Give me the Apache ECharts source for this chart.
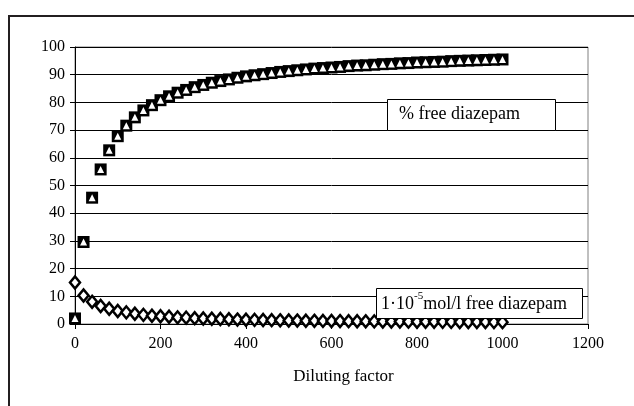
<!DOCTYPE html>
<html>
<head>
<meta charset="utf-8">
<script src="https://cdn.jsdelivr.net/npm/echarts@6/dist/echarts.min.js"></script>
<style>
  html, body { margin: 0; padding: 0; background: #fff; }
  #chart { width: 634px; height: 406px; }
</style>
</head>
<body>
<div id="chart"></div>
<script>
// diluting factor, step 20
const dilution = [0, 20, 40, 60, 80, 100, 120, 140, 160, 180, 200, 220, 240, 260, 280, 300,
  320, 340, 360, 380, 400, 420, 440, 460, 480, 500, 520, 540, 560, 580, 600, 620, 640, 660,
  680, 700, 720, 740, 760, 780, 800, 820, 840, 860, 880, 900, 920, 940, 960, 980, 1000];

// % free diazepam (squares + triangles)
const freePercent = [2, 29.6, 45.6, 55.8, 62.7, 67.8, 71.6, 74.6, 77.1, 79.0, 80.8, 82.2, 83.5,
  84.5, 85.5, 86.3, 87.1, 87.7, 88.3, 88.9, 89.4, 89.8, 90.2, 90.6, 91.0, 91.3, 91.6, 91.9,
  92.2, 92.4, 92.6, 92.8, 93.1, 93.3, 93.4, 93.6, 93.8, 93.9, 94.1, 94.2, 94.4, 94.5, 94.6,
  94.7, 94.9, 95.0, 95.1, 95.2, 95.3, 95.4, 95.5];

// 1e-5 mol/l free diazepam (diamonds)
const freeConc = [15, 10.3, 8.0, 6.5, 5.5, 4.7, 4.2, 3.7, 3.3, 3.0, 2.8, 2.6, 2.4, 2.3, 2.1,
  2.0, 1.9, 1.8, 1.7, 1.6, 1.55, 1.5, 1.43, 1.38, 1.33, 1.28, 1.23, 1.19, 1.15, 1.11, 1.08,
  1.05, 1.02, 0.99, 0.96, 0.94, 0.91, 0.89, 0.87, 0.85, 0.83, 0.81, 0.79, 0.77, 0.76, 0.74,
  0.73, 0.71, 0.70, 0.68, 0.67];

const pairs = (ys) => dilution.map((x, i) => [x, ys[i]]);

const font = '"Liberation Serif", "DejaVu Serif", serif';
const chart = echarts.init(document.getElementById('chart'));

const option = {
  animation: false,
  textStyle: { fontFamily: font },
  grid: {
    left: 75, right: 46, top: 47, bottom: 82,
    show: true, borderColor: '#808080', borderWidth: 1
  },
  xAxis: {
    type: 'value', min: 0, max: 1200, interval: 200,
    name: 'Diluting factor', nameLocation: 'middle', nameGap: 44,
    nameTextStyle: { fontFamily: font, fontSize: 17, color: '#000', padding: [0, 0, 0, 24] },
    axisLine: { lineStyle: { color: '#000', width: 1 } },
    axisTick: { length: 5, lineStyle: { color: '#000' } },
    axisLabel: { margin: 12, fontFamily: font, fontSize: 16, color: '#000', formatter: (v) => String(v) },
    splitLine: { show: false }
  },
  yAxis: {
    type: 'value', min: 0, max: 100, interval: 10,
    axisLine: { show: true, lineStyle: { color: '#000', width: 1 } },
    axisTick: { show: true, length: 5, lineStyle: { color: '#000' } },
    axisLabel: { margin: 10, fontFamily: font, fontSize: 16, color: '#000' },
    splitLine: { lineStyle: { color: '#000', width: 1 } }
  },
  series: [
    {
      type: 'scatter', data: pairs(freeConc),
      symbol: 'diamond', symbolSize: [10, 12],
      itemStyle: { color: '#fff', borderColor: '#000', borderWidth: 2.5, opacity: 1 }
    },
    {
      type: 'scatter', data: pairs(freePercent),
      symbol: 'rect', symbolSize: 12,
      itemStyle: { color: '#000', opacity: 1 }
    },
    {
      type: 'scatter', data: pairs(freePercent),
      symbol: 'triangle', symbolSize: [7, 7],
      itemStyle: { color: '#fff', opacity: 1 }
    }
  ],
  graphic: [
    {
      type: 'rect', silent: true,
      shape: { x: 9, y: 16, width: 700, height: 500 },
      style: { fill: 'none', stroke: '#231f20', lineWidth: 2 }
    },
    {
      type: 'rect', z: 100,
      shape: { x: 387.5, y: 99.5, width: 168, height: 31 },
      style: { fill: '#fff', stroke: '#000', lineWidth: 1 }
    },
    {
      type: 'text', z: 101, left: 399, top: 105,
      style: { text: '% free diazepam', font: '18px ' + font, fill: '#000' }
    },
    {
      type: 'rect', z: 100,
      shape: { x: 376.5, y: 288.5, width: 206, height: 30 },
      style: { fill: '#fff', stroke: '#000', lineWidth: 1 }
    },
    {
      type: 'text', z: 101, left: 381, top: 291,
      style: {
        text: '{n|1·10}{s|-5}{n|mol/l free diazepam}',
        rich: {
          n: { fontFamily: font, fontSize: 18, color: '#000', verticalAlign: 'bottom', lineHeight: 22 },
          s: { fontFamily: font, fontSize: 11, color: '#000', verticalAlign: 'top', lineHeight: 22, padding: [0, 0, 10, 0] }
        }
      }
    }
  ]
};

chart.setOption(option);
</script>
</body>
</html>
